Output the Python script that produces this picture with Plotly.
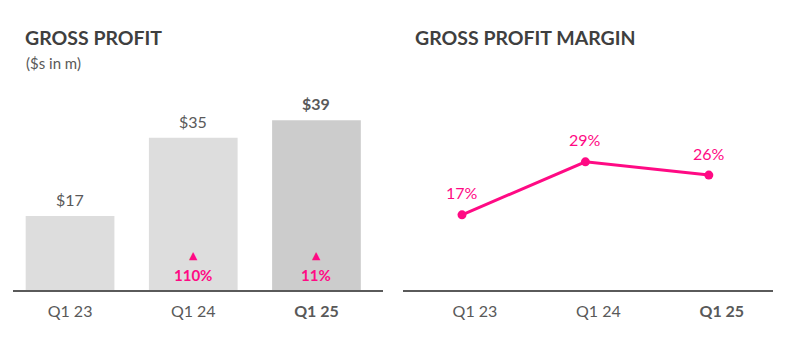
import plotly.graph_objects as go

categories = ["Q1 23", "Q1 24", "Q1 25"]
tick_labels = ["Q1 23", "Q1 24", "<b>Q1 25</b>"]
gross_profit = [17, 35, 39]
gp_labels = ["$17", "$35", "<b>$39</b>"]
growth_labels = ["", "110%", "11%"]
gp_margin = [17, 29, 26]
margin_labels = ["17%", "29%", "26%"]

PINK = "#FF0A84"
GRAY_TXT = "#595959"
DARK = "#3F3F3F"
FONT = "Lato"
bar_colors = ["#DDDDDD", "#DDDDDD", "#CCCCCC"]

fig = go.Figure()

fig.add_trace(go.Bar(
    x=categories, y=gross_profit, marker=dict(color=bar_colors, line=dict(width=0)),
    width=0.72, xaxis="x", yaxis="y", hoverinfo="skip", showlegend=False,
))

fig.add_trace(go.Scatter(
    x=categories, y=gp_margin, mode="lines+markers",
    line=dict(color=PINK, width=3), marker=dict(color=PINK, size=9),
    xaxis="x2", yaxis="y2", hoverinfo="skip", showlegend=False,
))

annotations = []
for c, v, t in zip(categories, gross_profit, gp_labels):
    annotations.append(dict(x=c, y=v, xref="x", yref="y", text=t, showarrow=False,
                            yanchor="bottom", yshift=5,
                            font=dict(family=FONT, size=16, color=GRAY_TXT)))
for c, t in zip(categories, growth_labels):
    if not t:
        continue
    annotations.append(dict(x=c, y=0, xref="x", yref="y", text="▲", showarrow=False,
                            yanchor="middle", yshift=35,
                            font=dict(family="DejaVu Sans", size=11, color=PINK)))
    annotations.append(dict(x=c, y=0, xref="x", yref="y", text="<b>" + t + "</b>",
                            showarrow=False, yanchor="middle", yshift=15,
                            font=dict(family=FONT, size=15, color=PINK)))
for c, v, t in zip(categories, gp_margin, margin_labels):
    annotations.append(dict(x=c, y=v, xref="x2", yref="y2", text=t, showarrow=False,
                            yanchor="middle", yshift=22,
                            font=dict(family=FONT, size=16, color=PINK)))

annotations += [
    dict(x=23 / 798, y=1 - 37 / 351, xref="paper", yref="paper", xanchor="left",
         yanchor="middle", text="<b>GROSS PROFIT</b>", showarrow=False,
         font=dict(family=FONT, size=19.5, color=DARK)),
    dict(x=24 / 798, y=1 - 63 / 351, xref="paper", yref="paper", xanchor="left",
         yanchor="middle", text="($s in m)", showarrow=False,
         font=dict(family=FONT, size=15, color=GRAY_TXT)),
    dict(x=413 / 798, y=1 - 37 / 351, xref="paper", yref="paper", xanchor="left",
         yanchor="middle", text="<b>GROSS PROFIT MARGIN</b>", showarrow=False,
         font=dict(family=FONT, size=19.5, color=DARK)),
]

y_bottom = (351 - 290) / 351
y_top = (351 - 90) / 351

axis_common = dict(showgrid=False, zeroline=False, showline=True, linecolor="#5A5A5A",
                   linewidth=2, ticks="", type="category", ticklabelstandoff=6,
                   tickfont=dict(family=FONT, size=16, color=GRAY_TXT))

fig.update_layout(
    width=798, height=351, margin=dict(l=0, r=0, t=0, b=0),
    paper_bgcolor="white", plot_bgcolor="white",
    font=dict(family=FONT),
    xaxis=dict(domain=[13 / 798, 383 / 798], range=[-0.463, 2.54],
               tickvals=categories, ticktext=tick_labels, anchor="y", **axis_common),
    yaxis=dict(domain=[y_bottom, y_top], range=[0, 200 / 4.35], visible=False, anchor="x"),
    xaxis2=dict(domain=[403 / 798, 773 / 798], range=[-0.478, 2.52],
                tickvals=categories, ticktext=tick_labels, anchor="y2",
                ticklabelshift=13, **axis_common),
    yaxis2=dict(domain=[y_bottom, y_top], range=[0, 200 / 4.42], visible=False, anchor="x2"),
    annotations=annotations,
)

fig.write_html("out.html")
